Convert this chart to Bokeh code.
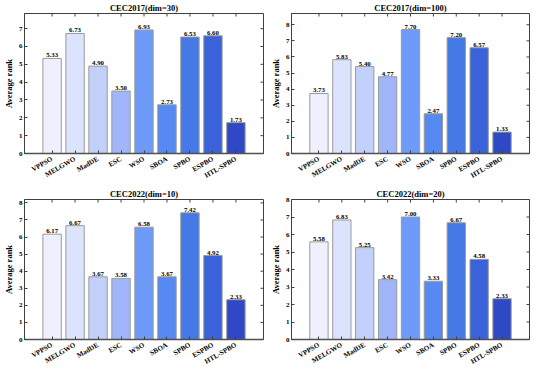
import math
from bokeh.plotting import figure
from bokeh.layouts import gridplot
from bokeh.models import Range1d, ColumnDataSource, FixedTicker
from bokeh.embed import file_html
from bokeh.resources import INLINE

# ---- data ----
algorithms = ["VPPSO", "MELGWO", "MadDE", "ESC", "WSO", "SBOA", "SPBO", "ESPBO", "HTL-SPBO"]
cec2017_dim30 = [5.33, 6.73, 4.90, 3.50, 6.93, 2.73, 6.53, 6.60, 1.73]
cec2017_dim100 = [3.73, 5.83, 5.40, 4.77, 7.70, 2.47, 7.20, 6.57, 1.33]
cec2022_dim10 = [6.17, 6.67, 3.67, 3.58, 6.58, 3.67, 7.42, 4.92, 2.33]
cec2022_dim20 = [5.58, 6.83, 5.25, 3.42, 7.00, 3.33, 6.67, 4.58, 2.33]
titles = ["CEC2017(dim=30)", "CEC2017(dim=100)", "CEC2022(dim=10)", "CEC2022(dim=20)"]
y_label = "Average rank"
y_ticks = [0, 1, 2, 3, 4, 5, 6, 7, 8]

# ---- style ----
palette = ["#EEF0FD", "#DCE3FC", "#C3D0FA", "#A0B6F8", "#6E9BF8",
           "#5689F2", "#4479E6", "#3B63D9", "#2F48C6"]
FONT = "Liberation Serif"
PAD = 1.2
TICK = "#404040"

xpos = list(range(1, len(algorithms) + 1))
X0, X1 = xpos[0] - PAD, xpos[-1] + PAD


def panel(title, vals, ymax, left_col):
    src = ColumnDataSource(dict(
        x=xpos, val=vals, color=palette,
        lab=["%.2f" % v for v in vals]))
    p = figure(
        x_range=Range1d(X0, X1),
        y_range=Range1d(0, ymax),
        width=267, height=186,
        output_backend="svg", toolbar_location=None,
        min_border_left=18 if left_col else 20,
        min_border_right=4 if left_col else 5,
        min_border_top=4, min_border_bottom=24,
        title=title,
    )
    p.title.text_font = FONT
    p.title.text_font_style = "bold"
    p.title.text_font_size = "8.5px"
    p.title.align = "center"
    p.title.standoff = 1
    p.title.offset = 0
    p.title.text_color = "#000000"

    p.vbar(x="x", top="val", width=0.8, source=src,
           fill_color="color", line_color="#9a9a9a", line_width=1)
    p.text(x="x", y="val", text="lab", source=src,
           text_align="center", text_baseline="bottom", y_offset=-1,
           text_font=FONT, text_font_style="bold", text_font_size="6.8px",
           text_color="#000000")

    # mirrored inward ticks on the right and top edges (half dashes clipped by frame)
    p.scatter(x=[X1] * len(y_ticks), y=y_ticks,
              marker="dash", size=6, line_color=TICK, line_width=1)
    p.scatter(x=xpos, y=[ymax] * len(xpos), marker="dash",
              angle=math.pi / 2, size=6, line_color=TICK, line_width=1)

    p.xgrid.visible = False
    p.ygrid.visible = False
    p.outline_line_color = TICK
    p.outline_line_width = 1

    # bottom axis
    xa = p.below[0]
    xa.ticker = FixedTicker(ticks=xpos)
    xa.major_label_overrides = {i: a for i, a in zip(xpos, algorithms)}
    xa.major_label_orientation = math.pi / 6
    xa.major_label_text_font = FONT
    xa.major_label_text_font_style = "bold"
    xa.major_label_text_font_size = "7px"
    xa.major_label_text_color = "#000000"
    xa.major_label_standoff = 5
    xa.major_tick_in = 3
    xa.major_tick_out = 0
    xa.minor_tick_line_color = None
    xa.major_tick_line_color = TICK
    xa.axis_line_color = "#505050"
    xa.axis_line_width = 1.5

    # left axis
    ya = p.left[0]
    ya.ticker = FixedTicker(ticks=y_ticks)
    ya.major_label_text_font = FONT
    ya.major_label_text_font_style = "bold"
    ya.major_label_text_font_size = "7px"
    ya.major_label_text_color = "#000000"
    ya.major_label_standoff = 2
    ya.major_tick_in = 3
    ya.major_tick_out = 0
    ya.minor_tick_line_color = None
    ya.major_tick_line_color = TICK
    ya.axis_line_color = TICK
    ya.axis_label = y_label
    ya.axis_label_text_font = FONT
    ya.axis_label_text_font_style = "bold"
    ya.axis_label_text_font_size = "8.5px"
    ya.axis_label_text_color = "#000000"
    ya.axis_label_standoff = 2
    return p


p1 = panel(titles[0], cec2017_dim30, 7.85, True)
p2 = panel(titles[1], cec2017_dim100, 8.7, False)
p3 = panel(titles[2], cec2022_dim10, 8.2, True)
p4 = panel(titles[3], cec2022_dim20, 8.0, False)

grid = gridplot([[p1, p2], [p3, p4]], toolbar_location=None)

open("out.html", "w").write(file_html(grid, INLINE))
